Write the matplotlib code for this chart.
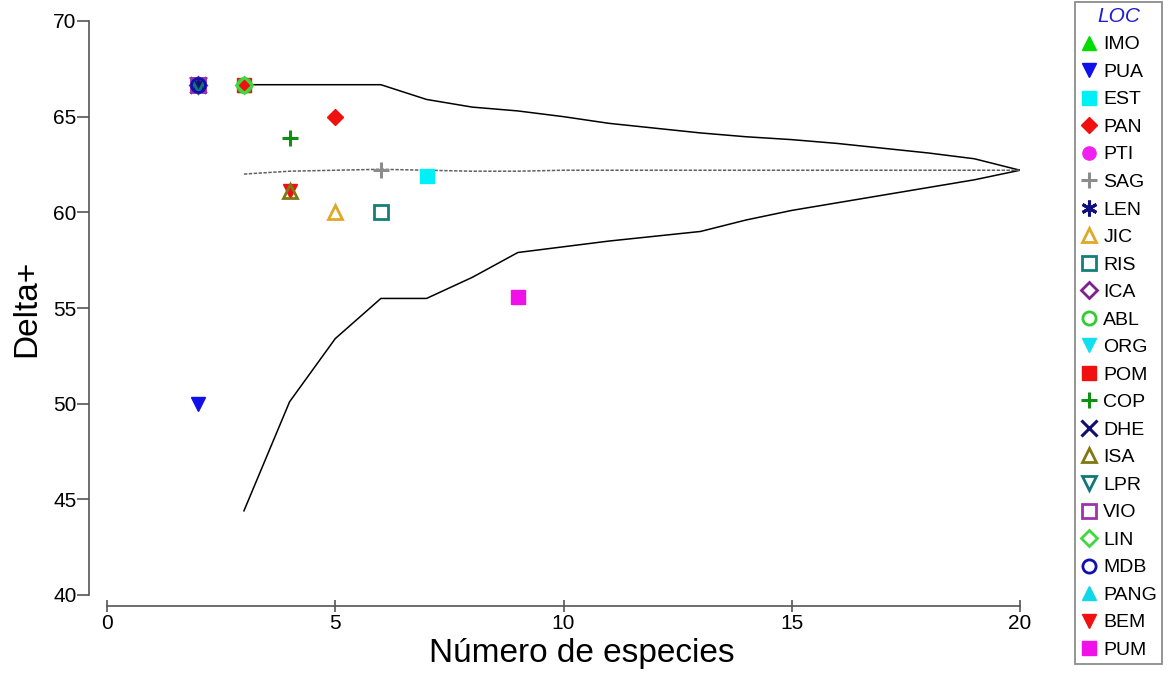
import matplotlib
matplotlib.use("Agg")
import matplotlib.pyplot as plt
from matplotlib.lines import Line2D

plt.rcParams['font.family'] = ['Liberation Sans', 'DejaVu Sans']

# funnel (95% probability limits) and mean Delta+
n_species = [3, 4, 5, 6, 7, 8, 9, 10, 11, 12, 13, 14, 15, 16, 17, 18, 19, 20]
upper_limit = [66.67, 66.67, 66.67, 66.67, 65.9, 65.5, 65.3, 65.0, 64.65, 64.4,
               64.15, 63.95, 63.8, 63.6, 63.35, 63.1, 62.8, 62.2]
lower_limit = [44.4, 50.1, 53.4, 55.5, 55.5, 56.6, 57.9, 58.2, 58.5, 58.75,
               59.0, 59.6, 60.1, 60.5, 60.9, 61.3, 61.7, 62.2]
mean_delta = [62.0, 62.15, 62.2, 62.25, 62.2, 62.15, 62.15, 62.2, 62.2, 62.2,
              62.2, 62.2, 62.2, 62.2, 62.2, 62.2, 62.2, 62.2]

# sites
loc_names = ['IMO', 'PUA', 'EST', 'PAN', 'PTI', 'SAG', 'LEN', 'JIC', 'RIS', 'ICA',
             'ABL', 'ORG', 'POM', 'COP', 'DHE', 'ISA', 'LPR', 'VIO', 'LIN', 'MDB',
             'PANG', 'BEM', 'PUM']
loc_species = [3, 2, 7, 5, 2, 6, 2, 5, 6, 2,
               3, 2, 3, 4, 2, 4, 2, 2, 3, 2,
               2, 4, 9]
loc_delta = [66.67, 50.0, 61.9, 65.0, 66.67, 62.2, 66.67, 60.0, 60.0, 66.67,
             66.67, 66.67, 66.67, 63.9, 66.67, 61.1, 66.67, 66.67, 66.67, 66.67,
             66.67, 61.1, 55.55]

# marker, colour, filled
styles = {
    'IMO': ('^', '#00DD00', True),
    'PUA': ('v', '#1010E8', True),
    'EST': ('s', '#00F0F8', True),
    'PAN': ('D', '#F01010', True),
    'PTI': ('o', '#F020F0', True),
    'SAG': ('+', '#8C8C8C', False),
    'LEN': ((6, 2, 0), '#101080', False),
    'JIC': ('^', '#E0A828', False),
    'RIS': ('s', '#108078', False),
    'ICA': ('D', '#802090', False),
    'ABL': ('o', '#30CC30', False),
    'ORG': ('v', '#10E0F0', True),
    'POM': ('s', '#F01010', True),
    'COP': ('+', '#109010', False),
    'DHE': ('x', '#101070', False),
    'ISA': ('^', '#807810', False),
    'LPR': ('v', '#107878', False),
    'VIO': ('s', '#A030B0', False),
    'LIN': ('D', '#40D840', False),
    'MDB': ('o', '#1010B0', False),
    'PANG': ('^', '#10D8E8', True),
    'BEM': ('v', '#F01010', True),
    'PUM': ('s', '#F010E8', True),
}

fig = plt.figure(figsize=(11.71, 6.77), dpi=100)
ax = fig.add_axes([107 / 1171, 1 - 595 / 677, (1020 - 107) / 1171, (595 - 21) / 677])

ax.plot(n_species, upper_limit, color='black', lw=1.1)
ax.plot(n_species, lower_limit, color='black', lw=1.1)
ax.plot(n_species, mean_delta, color='#606060', lw=1.1, ls=(0, (2.2, 1.0)))

handles = []
for name, xs, ys in zip(loc_names, loc_species, loc_delta):
    mk, col, filled = styles[name]
    kw = dict(marker=mk, ls='none', markersize=10)
    if filled:
        kw.update(color=col, markeredgecolor=col)
    elif mk in ('+', 'x') or isinstance(mk, tuple):
        kw.update(color=col, markeredgewidth=2.2, markersize=12)
    else:
        kw.update(markerfacecolor='none', markeredgecolor=col, markeredgewidth=2)
    if mk == 'D':
        kw['markersize'] = 8.5
    # outlines sit on top of the solid symbols where sites overlap
    ax.plot([xs], [ys], zorder=2.5 if filled else 3, **kw)
    handles.append(Line2D([], [], label=name, **kw))

ax.set_xlim(0, 20)
ax.set_ylim(40, 70)
ax.set_xticks([0, 5, 10, 15, 20])
ax.set_yticks([40, 45, 50, 55, 60, 65, 70])
for s in ('top', 'right'):
    ax.spines[s].set_visible(False)
ax.spines['left'].set_position(('outward', 13))
ax.spines['bottom'].set_position(('outward', 8))
for s in ('left', 'bottom'):
    ax.spines[s].set_color('#555555')
    ax.spines[s].set_linewidth(1.2)
ax.tick_params(axis='y', direction='out', length=8.5, width=1.2, color='#555555',
               labelsize=15, pad=0.5)
ax.tick_params(axis='x', direction='inout', length=9, width=1.2, color='#555555',
               labelsize=15, pad=1)
ax.set_xlabel('Número de especies', fontsize=24, labelpad=6)
ax.set_ylabel('Delta+', fontsize=24, labelpad=8)
ax.xaxis.set_label_coords(0.52, -0.075)

leg = fig.legend(handles=handles, loc='upper left',
                 bbox_to_anchor=(1075 / 1171, 1 - 2 / 677), title='LOC',
                 fontsize=14, frameon=True, fancybox=False, borderpad=0.25,
                 labelspacing=0.51, handlelength=0.9, handletextpad=0.3,
                 borderaxespad=0, markerscale=0.95)
leg.get_frame().set_edgecolor('#707070')
leg.get_frame().set_linewidth(1.3)
leg.get_title().set_color('#2020D0')
leg.get_title().set_fontstyle('italic')
leg.get_title().set_fontsize(15)

fig.savefig('out.png', dpi=100)
